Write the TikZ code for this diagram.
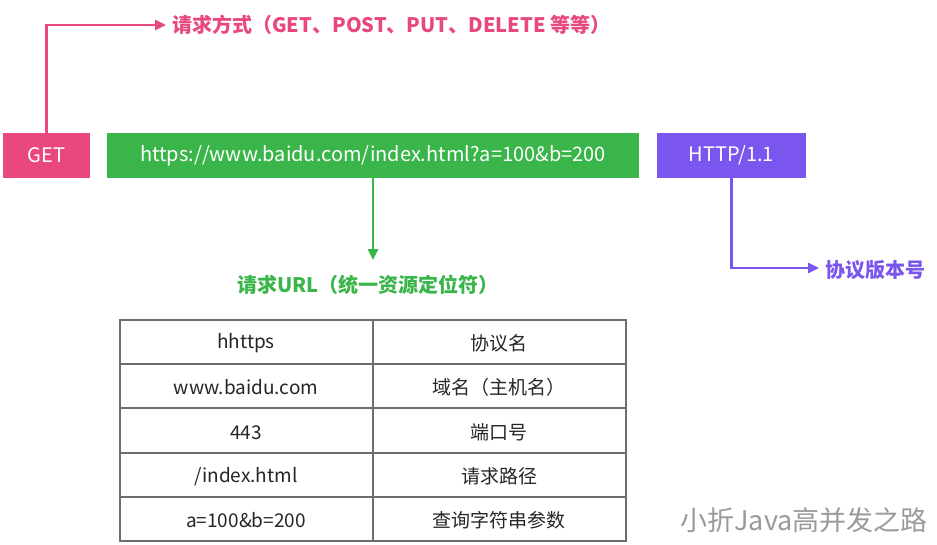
\documentclass[tikz,border=0pt]{standalone}
\usepackage{fontspec}
\setmainfont{Noto Sans CJK SC}
\usetikzlibrary{arrows.meta}
\definecolor{cpink}{HTML}{E8487E}
\definecolor{cgreen}{HTML}{3AB54A}
\definecolor{cpurple}{HTML}{7A55EE}
\definecolor{cgrid}{HTML}{6E6E6E}
\definecolor{cwm}{HTML}{9A9A9A}
\tikzset{
  box/.style={draw=none, minimum height=45pt, inner sep=0pt, text=white, font=\fontsize{20}{23}\selectfont},
  conn/.style={line width=2.5pt, -{Triangle[length=11pt,width=10pt]}},
  lbl/.style={font=\fontsize{20}{23}\selectfont\bfseries, inner sep=0pt},
  cell/.style={font=\fontsize{19}{22}\selectfont, text=black!85, inner sep=0pt},
  grid/.style={draw=cgrid, line width=2pt}
}
\begin{document}
\begin{tikzpicture}[x=1pt,y=-1pt]
\useasboundingbox (0,0) rectangle (937,544);
\fill[white] (0,0) rectangle (937,544);
% boxes
\node[box, fill=cpink, minimum width=87pt] (get) at (46.5,155.5) {GET};
\node[box, fill=cgreen, minimum width=532pt] (url) at (373,155.5) {https://www.baidu.com/index.html?a=100\&b=200};
\node[box, fill=cpurple, minimum width=149pt] (ver) at (731.5,155.5) {HTTP/1.1};
% labels
\node[lbl, text=cpink, anchor=west] (lmeth) at (172,25) {请求方式（GET、POST、PUT、DELETE 等等）};
\node[lbl, text=cgreen] (lurl) at (368,285) {请求URL（统一资源定位符）};
\node[lbl, text=cpurple, anchor=west] (lver) at (825,270) {协议版本号};
% connectors
\coordinate (c1) at (46.5,25);
\draw[conn, draw=cpink] (get.north) -- (c1) -- ([xshift=-6pt]lmeth.west);
\draw[conn, draw=cgreen] (url.south) -- ([yshift=15pt]lurl.north -| url.south);
\coordinate (c2) at (731.5,268);
\draw[conn, draw=cpurple] (ver.south) -- (c2) -- ([xshift=-6pt]lver.west |- c2);
% table
\draw[grid] (119.5,320) rectangle (626,541);
\foreach \y in {363.5,408,453,497} \draw[grid] (119.5,\y) -- (626,\y);
\draw[grid] (373,320) -- (373,541);
\node[cell] (k1) at (246,343.5) {hhttps};
\node[cell] (k2) at (246,387.5) {www.baidu.com};
\node[cell] (k3) at (246,432.5) {443};
\node[cell] (k4) at (246,476.5) {/index.html};
\node[cell] (k5) at (246,520.5) {a=100\&b=200};
\node[cell] (v1) at (499,343.5) {协议名};
\node[cell] (v2) at (499,387.5) {域名（主机名）};
\node[cell] (v3) at (499,432.5) {端口号};
\node[cell] (v4) at (499,476.5) {请求路径};
\node[cell] (v5) at (499,520.5) {查询字符串参数};
% watermark
\node[font=\fontsize{27}{30}\selectfont, text=cwm, anchor=east, inner sep=0pt] (wm) at (928,520) {小折Java高并发之路};
\end{tikzpicture}
\end{document}
